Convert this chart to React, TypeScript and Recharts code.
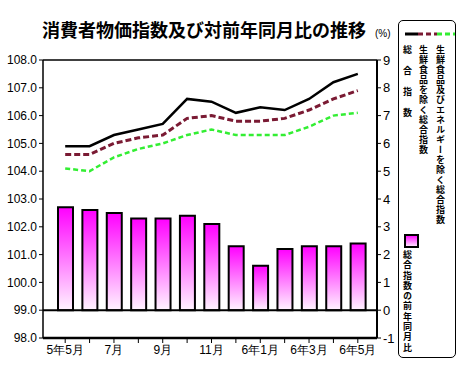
import { ComposedChart, Bar, Line, XAxis, YAxis, ReferenceLine } from "recharts";

const months = ["5年5月", "6月", "7月", "8月", "9月", "10月", "11月", "12月", "6年1月", "2月", "6年3月", "4月", "6年5月"];
const tickLabels = ["5年5月", "", "7月", "", "9月", "", "11月", "", "6年1月", "", "6年3月", "", "6年5月"];

// 総合指数 / 生鮮食品を除く / 生鮮食品及びエネルギーを除く
const total = [104.9, 104.9, 105.3, 105.5, 105.7, 106.6, 106.5, 106.1, 106.3, 106.2, 106.6, 107.2, 107.5];
const core = [104.6, 104.6, 105.0, 105.2, 105.3, 105.9, 106.0, 105.8, 105.8, 105.9, 106.2, 106.6, 106.9];
const coreCore = [104.1, 104.0, 104.5, 104.8, 105.0, 105.3, 105.5, 105.3, 105.3, 105.3, 105.6, 106.0, 106.1];
// 総合指数の前年同月比 (%)
const yoy = [3.7, 3.6, 3.5, 3.3, 3.3, 3.4, 3.1, 2.3, 1.6, 2.2, 2.3, 2.3, 2.4];

const leftTicks = [98, 99, 100, 101, 102, 103, 104, 105, 106, 107, 108];
const rightTicks = [-1, 0, 1, 2, 3, 4, 5, 6, 7, 8, 9];

const data = months.map((m, i) => ({
  month: m,
  total: total[i],
  core: core[i],
  coreCore: coreCore[i],
  yoy: yoy[i],
}));

const narrow = '"Liberation Sans Narrow", "Arial Narrow", "Liberation Sans", sans-serif';
const jp = '"Noto Sans CJK JP", sans-serif';

function vcol(text: string, left: number, top: number, spacing: number) {
  return (
    <div
      style={{
        position: "absolute",
        left,
        top,
        writingMode: "vertical-rl",
        fontFamily: jp,
        fontSize: 9,
        fontWeight: 700,
        lineHeight: 1,
        letterSpacing: spacing,
        color: "#000",
      }}
    >
      {text}
    </div>
  );
}

export default function App() {
  return (
    <div style={{ position: "absolute", left: 0, top: 0, width: 467, height: 374, background: "#fff" }}>
      <div
        style={{
          position: "absolute",
          left: 42,
          top: 17,
          fontFamily: jp,
          fontWeight: 700,
          fontSize: 18,
          lineHeight: "24px",
          whiteSpace: "nowrap",
          color: "#000",
        }}
      >
        消費者物価指数及び対前年同月比の推移
      </div>
      <div style={{ position: "absolute", left: 375, top: 28, fontFamily: narrow, fontSize: 10, color: "#000" }}>
        (%)
      </div>

      <ComposedChart
        width={467}
        height={374}
        data={data}
        margin={{ top: 60, right: 72, bottom: 10, left: 0 }}
      >
        <defs>
          <linearGradient id="barGrad" x1="0" y1="0" x2="0" y2="1">
            <stop offset="0%" stopColor="#ff00ff" />
            <stop offset="100%" stopColor="#fff4ff" />
          </linearGradient>
        </defs>
        <XAxis
          dataKey="month"
          interval={0}
          padding={{ left: 10, right: 7 }}
          height={26}
          axisLine={{ stroke: "#000", strokeWidth: 2.5 }}
          tickLine={{ stroke: "#000" }}
          tickSize={5}
          tickFormatter={(_v: string, i: number) => tickLabels[i]}
          tick={{ fill: "#000", fontSize: 12, fontFamily: narrow }}
        />
        <YAxis
          yAxisId="left"
          domain={[98, 108]}
          ticks={leftTicks}
          width={43}
          axisLine={{ stroke: "#000", strokeWidth: 1.5 }}
          tickLine={{ stroke: "#000" }}
          tickSize={4}
          tickFormatter={(v: number) => v.toFixed(1)}
          tick={{ fill: "#000", fontSize: 12, fontFamily: narrow }}
        />
        <YAxis
          yAxisId="right"
          orientation="right"
          domain={[-1, 9]}
          ticks={rightTicks}
          width={18}
          axisLine={{ stroke: "#000", strokeWidth: 2 }}
          tickLine={{ stroke: "#000" }}
          tickSize={4}
          tick={{ fill: "#000", fontSize: 13, fontFamily: narrow, textAnchor: "start" }}
        />
        <ReferenceLine yAxisId="left" y={108} stroke="#000" strokeWidth={1.5} />
        <Bar
          yAxisId="right"
          dataKey="yoy"
          barSize={15}
          fill="url(#barGrad)"
          stroke="#000"
          strokeWidth={2}
          isAnimationActive={false}
        />
        <ReferenceLine yAxisId="right" y={0} stroke="#000" strokeWidth={2} />
        <Line
          yAxisId="left"
          type="linear"
          dataKey="coreCore"
          stroke="#33ee33"
          strokeWidth={2.5}
          strokeDasharray="5 3"
          dot={false}
          isAnimationActive={false}
        />
        <Line
          yAxisId="left"
          type="linear"
          dataKey="core"
          stroke="#7a1a33"
          strokeWidth={3}
          strokeDasharray="6 3"
          dot={false}
          isAnimationActive={false}
        />
        <Line
          yAxisId="left"
          type="linear"
          dataKey="total"
          stroke="#000"
          strokeWidth={2.5}
          dot={false}
          isAnimationActive={false}
        />
      </ComposedChart>

      <div
        style={{
          position: "absolute",
          left: 398,
          top: 20,
          width: 58,
          height: 338,
          border: "1px solid #000",
          borderRadius: 5,
          boxSizing: "border-box",
        }}
      />
      <svg style={{ position: "absolute", left: 398, top: 20 }} width={60} height={240}>
        <defs>
          <linearGradient id="swGrad" x1="0" y1="0" x2="0" y2="1">
            <stop offset="0%" stopColor="#ff00ff" />
            <stop offset="100%" stopColor="#fff4ff" />
          </linearGradient>
        </defs>
        <line x1={7} y1={14} x2={20} y2={14} stroke="#000" strokeWidth={3} />
        <line x1={20} y1={14} x2={39} y2={14} stroke="#7a1a33" strokeWidth={3} strokeDasharray="5 3" />
        <line x1={39} y1={14} x2={57} y2={14} stroke="#33ee33" strokeWidth={3} strokeDasharray="5 3" />
        <rect x={7} y={215} width={13} height={12} fill="url(#swGrad)" stroke="#000" strokeWidth={2} />
      </svg>
      {vcol("総合指数", 403, 45, 12)}
      {vcol("生鮮食品を除く総合指数", 419, 45, 1)}
      {vcol("生鮮食品及びエネルギーを除く総合指数", 436, 45, 1)}
      {vcol("総合指数の前年同月比", 403, 250, 1.3)}
    </div>
  );
}
